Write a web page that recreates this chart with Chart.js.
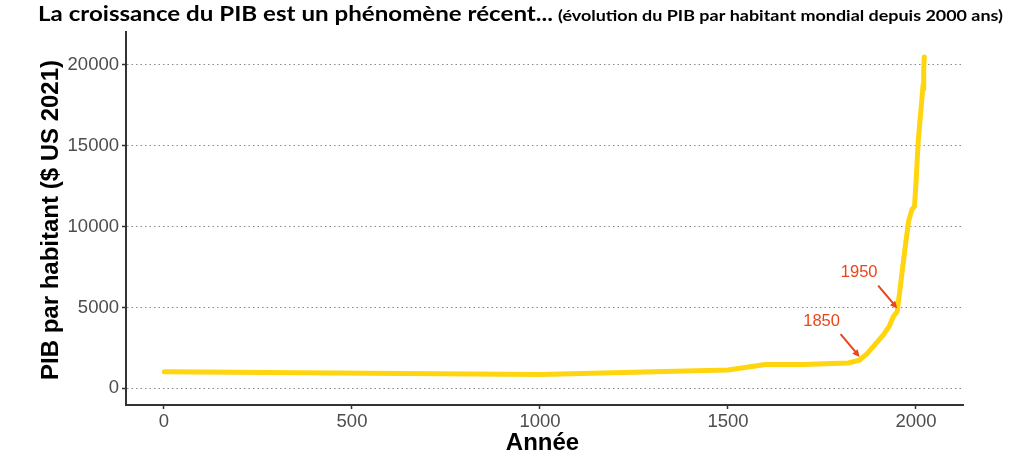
<!DOCTYPE html>
<html lang="fr">
<head>
<meta charset="utf-8">
<script src="https://cdn.jsdelivr.net/npm/chart.js@4/dist/chart.umd.min.js"></script>
<style>
  html, body { margin: 0; padding: 0; background: #fff; }
  #wrap { width: 1024px; height: 463px; position: relative; }
</style>
</head>
<body>
<div id="wrap"><canvas id="graphique"></canvas></div>
<script>
// Données
const annees = [1, 1000, 1500, 1600, 1700, 1820, 1850, 1870, 1900, 1913, 1929, 1940, 1950,
  1960, 1970, 1980, 1989, 1996, 2000, 2006, 2010, 2015, 2019, 2020, 2021, 2022];
const pibParHabitant = [1030, 850, 1130, 1480, 1470, 1570, 1750, 2150, 2950, 3300, 3850, 4450, 4750,
  6600, 8500, 10300, 11050, 11250, 12700, 15300, 16400, 17700, 18800, 18500, 19700, 20500];
const ticksX = [0, 500, 1000, 1500, 2000];
const ticksY = [0, 5000, 10000, 15000, 20000];
const anneesRepere = [1850, 1950];

const titre = "La croissance du PIB est un phénomène récent...";
const sousTitre = "(évolution du PIB par habitant mondial depuis 2000 ans)";
const titreY = "PIB par habitant ($ US 2021)";
const titreX = "Année";

const ORANGE = "#E8461A";

function valeurEn(annee) {
  const i = annees.indexOf(annee);
  return pibParHabitant[i];
}

function dessinerTexte(ctx, texte, police, x, y, largeurCible) {
  ctx.font = police;
  const w = ctx.measureText(texte).width;
  ctx.save();
  ctx.translate(x, y);
  ctx.scale(largeurCible / w, 1);
  ctx.fillText(texte, 0, 0);
  ctx.restore();
}

const habillage = {
  id: "habillage",
  afterDraw(chart) {
    const ctx = chart.ctx;
    const sx = chart.scales.x;
    const sy = chart.scales.y;

    // titre en deux tailles
    ctx.save();
    ctx.fillStyle = "#000";
    ctx.textBaseline = "alphabetic";
    ctx.textAlign = "left";
    dessinerTexte(ctx, titre, "bold 21px Lato", 38, 21, 515);
    dessinerTexte(ctx, sousTitre, "bold 16px Lato", 558, 21, 445);

    // titres des axes
    ctx.font = "bold 24px 'Liberation Sans', Arial, sans-serif";
    ctx.textAlign = "center";
    ctx.textBaseline = "middle";
    ctx.fillText(titreX, (sx.left + sx.right) / 2 - 2, 443);
    ctx.translate(51, 220);
    ctx.rotate(-Math.PI / 2);
    ctx.fillText(titreY, 0, 0);
    ctx.restore();

    // flèches 1850 / 1950
    ctx.save();
    ctx.strokeStyle = ORANGE;
    ctx.fillStyle = ORANGE;
    ctx.lineWidth = 2;
    ctx.font = "16.5px 'Liberation Sans', Arial, sans-serif";
    ctx.textAlign = "center";
    ctx.textBaseline = "middle";
    anneesRepere.forEach(a => {
      const px = sx.getPixelForValue(a);
      const py = sy.getPixelForValue(valeurEn(a)) - 3;
      const qx = px - 19;
      const qy = py - 23;
      ctx.beginPath();
      ctx.moveTo(qx, qy);
      ctx.lineTo(px - 3, py - 4);
      ctx.stroke();
      const ang = Math.atan2(py - qy, px - qx);
      ctx.beginPath();
      ctx.moveTo(px, py);
      ctx.lineTo(px - 8 * Math.cos(ang - 0.45), py - 8 * Math.sin(ang - 0.45));
      ctx.lineTo(px - 8 * Math.cos(ang + 0.45), py - 8 * Math.sin(ang + 0.45));
      ctx.closePath();
      ctx.fill();
      ctx.fillText(String(a), px - 38, py - 36);
    });
    ctx.restore();
  }
};

const points = annees.map((a, i) => ({ x: a, y: pibParHabitant[i] }));

new Chart(document.getElementById("graphique"), {
  type: "line",
  data: {
    datasets: [{
      data: points,
      borderColor: "#FFD50F",
      borderWidth: 5,
      borderJoinStyle: "round",
      borderCapStyle: "round",
      pointRadius: 0,
      tension: 0,
      fill: false,
      clip: false
    }]
  },
  options: {
    responsive: true,
    maintainAspectRatio: false,
    animation: false,
    layout: { padding: { top: 32, right: 61, left: 0, bottom: 0 } },
    plugins: {
      legend: { display: false },
      title: { display: false },
      tooltip: { enabled: false }
    },
    scales: {
      x: {
        type: "linear",
        min: -101,
        max: 2125,
        afterBuildTicks: s => { s.ticks = ticksX.map(v => ({ value: v })); },
        afterFit: s => { s.height = 58; },
        border: { display: true, color: "#333", width: 2 },
        grid: { drawOnChartArea: false, color: "#333", tickLength: 4, tickWidth: 1.5 },
        ticks: {
          color: "#4d4d4d",
          padding: 2,
          font: { family: "'Liberation Sans', Arial, sans-serif", size: 18.5 },
          callback: v => String(v)
        }
      },
      y: {
        type: "linear",
        min: -1030,
        max: 22040,
        afterBuildTicks: s => { s.ticks = ticksY.map(v => ({ value: v })); },
        afterFit: s => { s.width = 126; },
        border: { display: true, color: "#333", width: 2, dash: [1.5, 3] },
        grid: {
          color: "#8a8a8a",
          lineWidth: 1,
          tickColor: "#333",
          tickWidth: 1.5,
          tickLength: 4,
          tickBorderDash: []
        },
        ticks: {
          color: "#4d4d4d",
          padding: 3,
          font: { family: "'Liberation Sans', Arial, sans-serif", size: 18.5 },
          callback: v => String(v)
        }
      }
    }
  },
  plugins: [habillage]
});
</script>
</body>
</html>
